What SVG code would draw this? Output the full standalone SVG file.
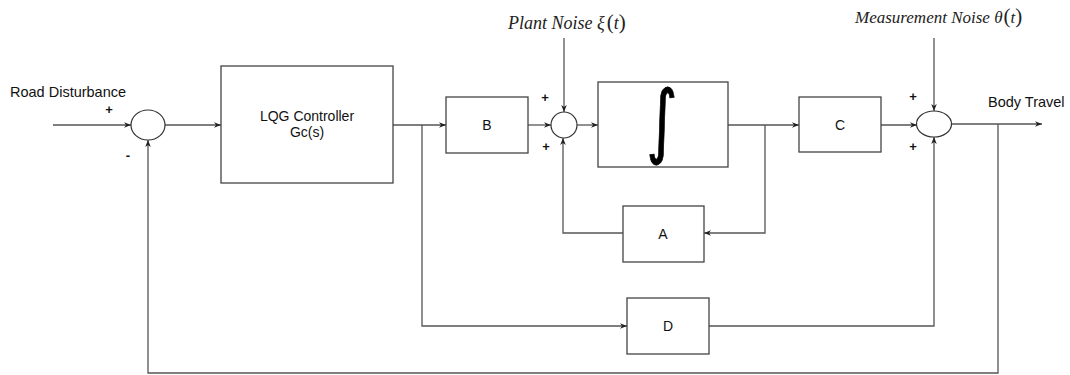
<svg xmlns="http://www.w3.org/2000/svg" width="1070" height="375" viewBox="0 0 1070 375">
<style>
.box{fill:#fff;stroke:#444;stroke-width:1.3}
.sum{fill:#fff;stroke:#333;stroke-width:1.2}
.ln{fill:none;stroke:#555;stroke-width:1.3}
.lbl{font-family:"Liberation Sans",Arial,sans-serif;font-size:14.5px;fill:#111}
.blk{font-family:"Liberation Sans",Arial,sans-serif;font-size:14px;fill:#111;text-anchor:middle}
.sign{font-family:"Liberation Sans",Arial,sans-serif;font-size:13px;font-weight:bold;fill:#111;text-anchor:middle}
.math{font-family:"Liberation Serif","Times New Roman",serif;font-style:italic;fill:#222}
</style>
<defs>
<marker id="ar" viewBox="0 0 10 10" refX="10" refY="5" markerWidth="7" markerHeight="7" markerUnits="userSpaceOnUse" orient="auto">
<path d="M0,1 L10,5 L0,9 L3,5 z" fill="#222"/>
</marker>
</defs>
<rect width="1070" height="375" fill="#fff"/>
<g id="connectors">
<line class="ln" x1="53" y1="125" x2="131" y2="125" marker-end="url(#ar)"/>
<line class="ln" x1="165" y1="125" x2="221" y2="125" marker-end="url(#ar)"/>
<line class="ln" x1="393" y1="125" x2="446" y2="125" marker-end="url(#ar)"/>
<line class="ln" x1="528" y1="125" x2="551" y2="125" marker-end="url(#ar)"/>
<line class="ln" x1="564" y1="38" x2="564" y2="112" marker-end="url(#ar)"/>
<line class="ln" x1="577" y1="125" x2="598" y2="125" marker-end="url(#ar)"/>
<line class="ln" x1="728" y1="125" x2="799" y2="125" marker-end="url(#ar)"/>
<polyline class="ln" points="765,125 765,233 704,233" marker-end="url(#ar)"/>
<polyline class="ln" points="623,233 563,233 563,138" marker-end="url(#ar)"/>
<line class="ln" x1="881" y1="125" x2="917" y2="125" marker-end="url(#ar)"/>
<line class="ln" x1="934" y1="38" x2="934" y2="111" marker-end="url(#ar)"/>
<line class="ln" x1="952" y1="124" x2="1042" y2="124" marker-end="url(#ar)"/>
<polyline class="ln" points="998,124 998,373 148,373 148,140" marker-end="url(#ar)"/>
<polyline class="ln" points="422,125 422,326 627,326" marker-end="url(#ar)"/>
<polyline class="ln" points="709,326 934,326 934,137" marker-end="url(#ar)"/>
</g>
<g id="sum1"><ellipse class="sum" cx="148" cy="125" rx="17" ry="15"/></g>
<g id="lqg"><rect class="box" x="221" y="66" width="172" height="117"/>
<text class="blk" x="307" y="121" font-size="15">LQG Controller</text>
<text class="blk" x="307" y="137" font-size="15">Gc(s)</text></g>
<g id="B"><rect class="box" x="446" y="97" width="82" height="56"/><text class="blk" x="487" y="130">B</text></g>
<g id="sum2"><circle class="sum" cx="564" cy="125" r="13"/></g>
<g id="integrator"><rect class="box" x="598" y="82" width="130" height="85"/>
<text x="662" y="142" font-family="'DejaVu Sans',sans-serif" font-size="60" text-anchor="middle" fill="#000" stroke="#000" stroke-width="0.6" transform="translate(662,125) scale(1,1.35) translate(-662,-125)">∫</text></g>
<g id="C"><rect class="box" x="799" y="97" width="82" height="55"/><text class="blk" x="840" y="130">C</text></g>
<g id="sum3"><ellipse class="sum" cx="934" cy="124" rx="17.5" ry="13"/></g>
<g id="A"><rect class="box" x="623" y="206" width="81" height="56"/><text class="blk" x="663" y="239">A</text></g>
<g id="D"><rect class="box" x="627" y="298" width="82" height="56"/><text class="blk" x="668" y="331">D</text></g>
<g id="labels">
<text class="lbl" x="10" y="97">Road Disturbance</text>
<text class="lbl" x="988" y="107">Body Travel</text>
<text class="math" x="508" y="29" font-size="18">Plant Noise <tspan>ξ</tspan><tspan font-style="normal" font-size="21" dx="2">(</tspan><tspan>t</tspan><tspan font-style="normal" font-size="21">)</tspan></text>
<text class="math" x="855" y="23" font-size="17">Measurement Noise <tspan>θ</tspan><tspan font-style="normal" font-size="21" dx="1">(</tspan><tspan>t</tspan><tspan font-style="normal" font-size="21">)</tspan></text>
<text class="sign" x="109" y="114">+</text>
<text class="sign" x="128" y="160">-</text>
<text class="sign" x="545" y="102">+</text>
<text class="sign" x="546" y="151">+</text>
<text class="sign" x="913" y="101">+</text>
<text class="sign" x="913" y="151">+</text>
</g>
</svg>
